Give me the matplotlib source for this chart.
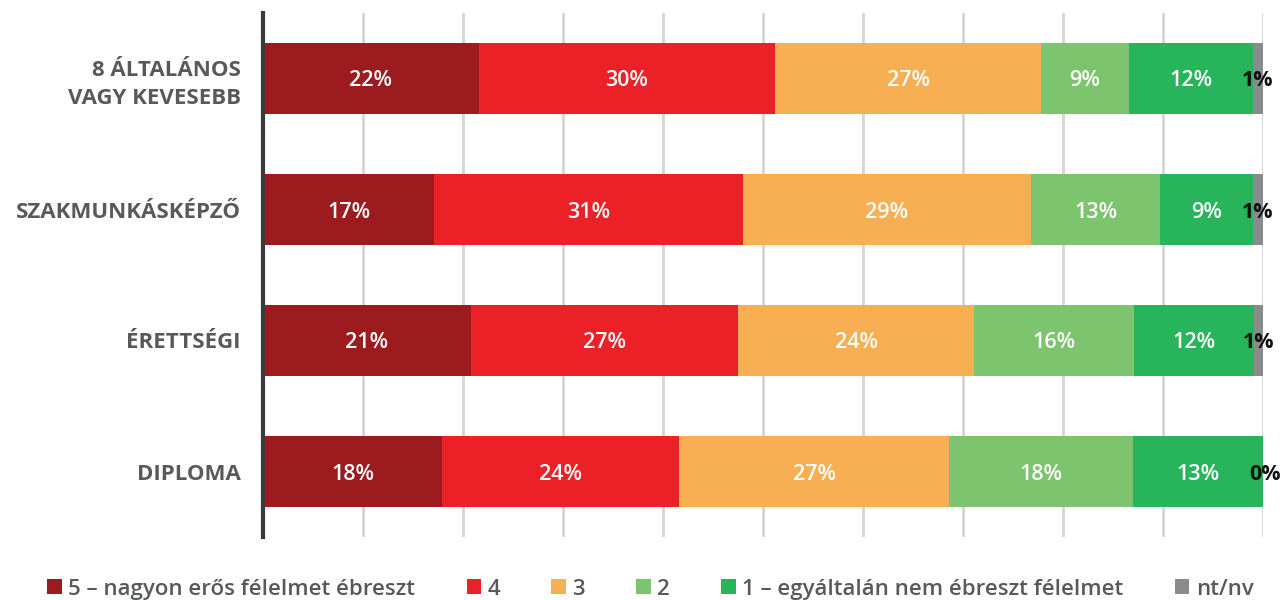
import numpy as np
import matplotlib.pyplot as plt
from matplotlib.patches import Patch

plt.rcParams['font.family'] = ['Open Sans', 'DejaVu Sans']

# categories (top to bottom)
categories = ["8 ÁLTALÁNOS\nVAGY KEVESEBB", "SZAKMUNKÁSKÉPZŐ", "ÉRETTSÉGI", "DIPLOMA"]
series_names = ["5 – nagyon erős félelmet ébreszt", "4", "3", "2",
                "1 – egyáltalán nem ébreszt félelmet", "nt/nv"]
colors = ["#9B1B1F", "#EC2027", "#F8AE52", "#7DC46E", "#27B45A", "#8A8B8D"]

# shares in percent, one list per answer
s5 = [21.6, 17.1, 20.8, 17.9]
s4 = [29.6, 30.9, 26.7, 23.7]
s3 = [26.6, 28.8, 23.6, 27.0]
s2 = [8.8, 12.9, 16.0, 18.4]
s1 = [12.4, 9.3, 12.0, 13.0]
snv = [1.0, 1.0, 1.0, 0.0]
series = [s5, s4, s3, s2, s1, snv]

fig = plt.figure(figsize=(12.83, 6), dpi=100)
ax = fig.add_axes([263 / 1283, 63 / 600, 1000 / 1283, 524 / 600])

y = np.arange(len(categories))
left = np.zeros(len(categories))
for i, (vals, col) in enumerate(zip(series, colors)):
    vals = np.array(vals)
    ax.barh(y, vals, left=left, height=0.535, color=col, zorder=2)
    for j, v in enumerate(vals):
        if i == len(series) - 1:
            # small "nt/nv" share: dark label over the thin grey end
            ax.text(left[j] + max(v, 0.3) / 2, y[j], f"{v:.0f}%", ha="center", va="center_baseline",
                    color="#111111", fontsize=15.5, fontweight="bold", zorder=3)
        else:
            ax.text(left[j] + v / 2, y[j], f"{v:.0f}%", ha="center", va="center_baseline",
                    color="white", fontsize=15.5, fontweight="semibold", zorder=3)
    left += vals

ax.set_xlim(0, 100)
ax.set_ylim(3.5, -0.5)
ax.set_xticks(np.arange(10, 101, 10))
ax.xaxis.grid(True, color="#D4D4D4", linewidth=2, zorder=0)
ax.tick_params(axis="x", length=0, labelbottom=False)
ax.tick_params(axis="y", length=0, pad=16)
ax.set_yticks(y)
ax.set_yticklabels(categories, fontsize=16, fontweight="bold", color="#58595B", linespacing=1.45)
for s in ["top", "right", "bottom"]:
    ax.spines[s].set_visible(False)
ax.spines["left"].set_color("#3A3A3C")
ax.spines["left"].set_linewidth(3)

handles = [Patch(facecolor=c, edgecolor="none") for c in colors]
leg = fig.legend(handles, series_names, loc="center", bbox_to_anchor=(0.507, 0.018),
                 ncol=6, frameon=False, fontsize=16, handlelength=0.65, handleheight=0.65,
                 handletextpad=0.3, columnspacing=2.3)
for t in leg.get_texts():
    t.set_color("#58595B")
    t.set_fontweight("semibold")

fig.savefig("out.png", dpi=100)
